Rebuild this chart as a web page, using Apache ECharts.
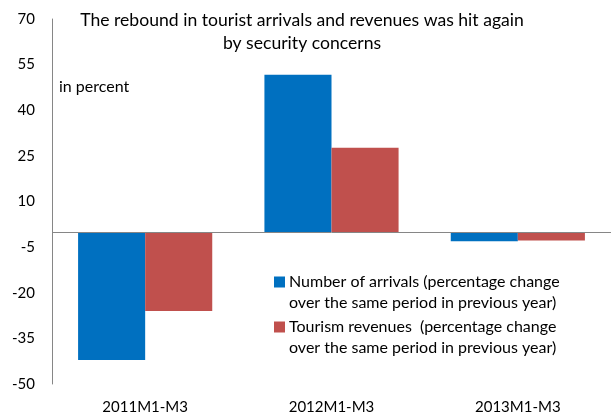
<!DOCTYPE html>
<html>
<head>
<meta charset="utf-8">
<script src="https://cdn.jsdelivr.net/npm/echarts@6/dist/echarts.min.js"></script>
<style>html,body{margin:0;padding:0;background:#fff;}#c{width:611px;height:415px;}</style>
</head>
<body>
<div id="c"></div>
<script>
const categories = ['2011M1-M3', '2012M1-M3', '2013M1-M3'];
const arrivals = [-42.1, 51.7, -3.1];
const revenues = [-26.0, 27.7, -2.8];
const yTicks = { min: -50, max: 70, interval: 15 };
const seriesNames = [
  'Number of arrivals (percentage change\nover the same period in previous year)',
  'Tourism revenues  (percentage change\nover the same period in previous year)'
];
const seriesColors = ['#0070C0', '#C0504D'];
const titleLines = 'The rebound in tourist arrivals and revenues was hit again\nby security concerns';
const unitLabel = 'in percent';

const FONT = 'Lato';
const chart = echarts.init(document.getElementById('c'), null, { renderer: 'canvas' });

const legendGraphics = [];
seriesNames.forEach(function (name, i) {
  const top = 271.5 + i * 45;
  legendGraphics.push({
    type: 'rect', left: 274, top: top + 5,
    shape: { width: 11, height: 11 },
    style: { fill: seriesColors[i] }
  });
  legendGraphics.push({
    type: 'text', left: 289, top: top,
    style: { text: name, font: '16px ' + FONT, fill: '#000', lineHeight: 21 }
  });
});

chart.setOption({
  animation: false,
  backgroundColor: '#fff',
  textStyle: { fontFamily: FONT },
  graphic: [{
    type: 'text', x: 302, y: 8.5,
    style: { text: titleLines, font: '17.6px ' + FONT, fill: '#000', align: 'center', verticalAlign: 'top', lineHeight: 23 }
  }, {
    type: 'text', left: 59, top: 77,
    style: { text: unitLabel, font: '16px ' + FONT, fill: '#000', lineHeight: 20 }
  }].concat(legendGraphics),
  grid: { left: 52, right: 0, top: 19, bottom: 30, containLabel: false },
  xAxis: {
    type: 'category', data: categories,
    axisLine: { show: false, onZero: false },
    axisTick: { show: false },
    axisLabel: { margin: 16, fontFamily: FONT, fontSize: 15, color: '#000' }
  },
  yAxis: {
    type: 'value', min: yTicks.min, max: yTicks.max, interval: yTicks.interval,
    axisLine: { show: true, lineStyle: { color: '#868686', width: 1 } },
    axisTick: { show: false },
    splitLine: { show: false },
    axisLabel: { margin: 17, fontFamily: FONT, fontSize: 15, color: '#000' }
  },
  series: [
    {
      name: seriesNames[0], type: 'bar', data: arrivals,
      itemStyle: { color: seriesColors[0] },
      barGap: '0%', barCategoryGap: '28%',
      markLine: {
        silent: true, symbol: 'none', label: { show: false },
        lineStyle: { color: '#868686', type: 'solid', width: 1 },
        data: [{ yAxis: 0 }]
      }
    },
    {
      name: seriesNames[1], type: 'bar', data: revenues,
      itemStyle: { color: seriesColors[1] },
      barGap: '0%', barCategoryGap: '28%'
    }
  ]
});
</script>
</body>
</html>
